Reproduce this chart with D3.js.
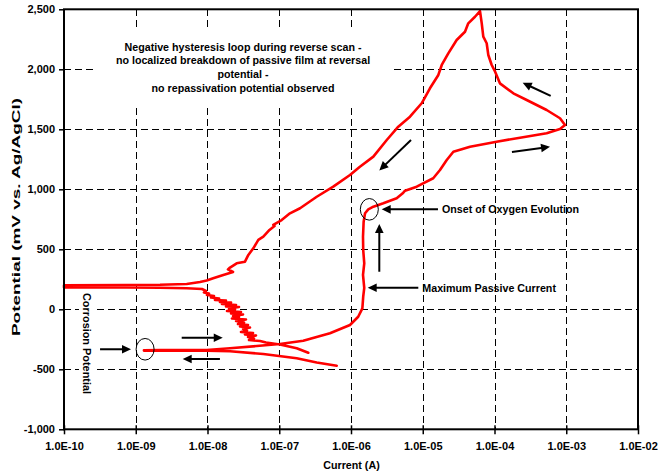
<!DOCTYPE html>
<html><head><meta charset="utf-8">
<script src="https://cdn.jsdelivr.net/npm/d3@7"></script>
<style>
html,body{margin:0;padding:0;background:#fff;}
svg{display:block;font-family:"Liberation Sans",Arial,Helvetica,sans-serif;font-weight:bold;}
</style></head><body>
<svg id="chart" width="658" height="474"></svg>
<script>
// Cyclic polarization scan: [current (A), potential (mV vs. Ag/AgCl)] in scan order.
// Start of scan: cathodic branch running down to the corrosion potential
const forwardCathodic = [
  [6.32e-7,-470],[3.33e-7,-443],[1.75e-7,-408],[6.0e-8,-372],[2.06e-8,-350],
  [9.75e-9,-346],[3.52e-9,-345],[1.3e-9,-344]
];
// Anodic branch: passive region, oxygen evolution, up to the nose near 1E-03 A
const forwardAnodic = [
  [1.3e-9,-342],[2.18e-9,-340],[9.75e-9,-339],[2.06e-8,-325],[4.85e-8,-306],
  [1.02e-7,-289],[2.16e-7,-262],[5.09e-7,-200],[9.68e-7,-131],[1.26e-6,-62],
  [1.44e-6,8],[1.48e-6,105],[1.53e-6,178],[1.47e-6,286],[1.53e-6,383],
  [1.48e-6,494],[1.47e-6,605],[1.50e-6,730],[1.57e-6,800],[1.74e-6,833],
  [2.05e-6,855],[2.82e-6,883],[4.33e-6,925],[5.26e-6,967],[5.66e-6,988],
  [8.24e-6,1022],[1.40e-5,1092],[1.74e-5,1161],[2.16e-5,1244],[2.67e-5,1313],
  [4.56e-5,1355],[1.07e-4,1397],[2.27e-4,1430],[5.33e-4,1467],[8.18e-4,1502],
  [9.61e-4,1536]
];
// Beyond the nose up to the reversal potential
const forwardTranspassive = [
  [8.18e-4,1592],[5.33e-4,1661],[2.81e-4,1744],[1.83e-4,1800],[1.19e-4,1883],
  [1.02e-4,1980],[9.14e-5,2036],[8.20e-5,2119],[7.78e-5,2217],[6.98e-5,2272],
  [6.64e-5,2383],[6.28e-5,2485]
];
// Reverse scan down to the second zero-current crossing
const reverseAnodic = [
  [5.35e-5,2438],[4.31e-5,2383],[3.88e-5,2313],[2.97e-5,2244],[2.27e-5,2133],
  [1.84e-5,2036],[1.65e-5,1953],[1.26e-5,1842],[9.66e-6,1717],[6.64e-6,1605],
  [4.56e-6,1522],[3.15e-6,1411],[2.05e-6,1272],[1.33e-6,1188],[9.68e-7,1119],
  [5.66e-7,1022],[3.33e-7,938],[1.95e-7,842],[1.41e-7,800],[1.08e-7,744],
  [8.26e-8,703],[8.59e-8,694],[7.31e-8,661],[6.00e-8,605],[5.11e-8,578],
  [4.35e-8,508],[3.71e-8,453],[3.33e-8,397],[2.55e-8,383],[2.06e-8,348],
  [1.93e-8,332],[2.27e-8,311],[1.66e-8,286],[1.20e-8,258],[9.75e-9,240],
  [7.86e-9,228],[5.13e-9,211],[2.18e-9,204],[7.48e-10,202],[1e-10,201]
];
// Noisy cathodic branch at the end of the reverse scan
const reverseCathodic = [
  [1e-10,182],[7.48e-10,182],[2.18e-9,180],[5.13e-9,175],[8.37e-9,169],
  [9.53e-9,153],[8.93e-9,140],[1.05e-8,132],[9.84e-9,119],[1.23e-8,111],
  [1.12e-8,98],[1.45e-8,90],[1.27e-8,78],[1.81e-8,73],[1.49e-8,61],
  [2.13e-8,57],[1.59e-8,44],[2.50e-8,36],[1.81e-8,23],[2.75e-8,19],
  [2.00e-8,7],[2.42e-8,-2],[1.87e-8,-14],[2.93e-8,-23],[2.13e-8,-35],
  [3.13e-8,-43],[2.27e-8,-56],[2.75e-8,-64],[2.19e-8,-77],[3.44e-8,-85],
  [2.50e-8,-98],[3.23e-8,-110],[2.66e-8,-123],[3.67e-8,-131],[2.84e-8,-143],
  [3.91e-8,-152],[3.13e-8,-164],[3.55e-8,-177],[2.93e-8,-189],[4.31e-8,-198],
  [3.33e-8,-210],[4.74e-8,-218],[3.67e-8,-231],[4.45e-8,-243],[3.79e-8,-256],
  [5.40e-8,-264],[6.53e-8,-277],[1.02e-7,-293],[1.75e-7,-325],[2.54e-7,-362]
];

const xTicks = [1e-10,1e-9,1e-8,1e-7,1e-6,1e-5,1e-4,1e-3,1e-2];
const xTickLabels = ["1.0E-10","1.0E-09","1.0E-08","1.0E-07","1.0E-06","1.0E-05","1.0E-04","1.0E-03","1.0E-02"];
const yTicks = [-1000,-500,0,500,1000,1500,2000,2500];
const yTickLabels = ["-1,000","-500","0","500","1,000","1,500","2,000","2,500"];

// Scan-direction arrows: [tail current, tail mV, tip current, tip mV]
const scanArrows = [
  [4.37e-9,-237,1.63e-8,-237],
  [1.49e-8,-414,4.51e-9,-414],
  [6.86e-6,1411,2.48e-6,1157],
  [6.07e-4,1778,2.47e-4,1888],
  [1.75e-4,1311,5.94e-4,1355],
  [2.48e-6,313,2.48e-6,711]
];
// Callouts: label, arrow tail/tip, optional ellipse centre
const callouts = [
  {text:"Onset of Oxygen Evolution", tail:[1.63e-5,833], tip:[2.68e-6,833], ring:[1.80e-6,833]},
  {text:"Maximum Passive Current", tail:[8.67e-6,180], tip:[1.71e-6,180], ring:null},
  {text:null, tail:[3.18e-10,-333], tip:[8.59e-10,-333], ring:[1.35e-9,-333]}
];
const noteLines = [
  "Negative hysteresis loop during reverse scan -",
  "no localized breakdown of passive film at reversal",
  "potential -",
  "no repassivation potential observed"
];

const W = 658, H = 474;
const margin = {left:64, right:20, top:9.3, bottom:44.7};
const svg = d3.select("#chart");
const x = d3.scaleLog().domain([1e-10,1e-2]).range([margin.left, W - margin.right]);
const y = d3.scaleLinear().domain([-1000,2500]).range([H - margin.bottom, margin.top]);
const [x0,x1] = x.range(), [y0,y1] = y.range();

svg.append("rect").attr("width",W).attr("height",H).attr("fill","#fff");

// dashed grid
const grid = svg.append("g").attr("stroke","#000").attr("stroke-width",1)
  .attr("stroke-dasharray","7,4").attr("shape-rendering","crispEdges");
grid.selectAll("line.v").data(xTicks.slice(1,-1)).join("line").attr("class","v")
  .attr("x1",d=>Math.round(x(d))+0.5).attr("x2",d=>Math.round(x(d))+0.5)
  .attr("y1",y1).attr("y2",y0);
grid.selectAll("line.h").data(yTicks.slice(1,-1)).join("line").attr("class","h")
  .attr("y1",d=>Math.round(y(d))+0.5).attr("y2",d=>Math.round(y(d))+0.5)
  .attr("x1",x0).attr("x2",x1);

// note box (opaque, hides the grid behind it)
svg.append("rect").attr("x",95).attr("y",31).attr("width",295).attr("height",73).attr("fill","#fff");
const note = svg.append("text").attr("text-anchor","middle").attr("font-size",10.7);
noteLines.forEach((t,i)=>{
  note.append("tspan").attr("x",243).attr("y",50.5 + i*13.8).text(t);
});

// "Corrosion Potential" vertical label with its own white box
svg.append("rect").attr("x",79).attr("y",289.5).attr("width",16).attr("height",108).attr("fill","#fff");
svg.append("text").attr("transform","translate(83.3,343.5) rotate(90)")
  .attr("text-anchor","middle").attr("font-size",10.9).text("Corrosion Potential");

// polarization curve
const scan = [].concat(forwardCathodic, forwardAnodic, forwardTranspassive, reverseAnodic, reverseCathodic);
const line = d3.line().x(d=>x(d[0])).y(d=>y(d[1]));
svg.append("path").datum(scan).attr("d",line).attr("fill","none")
  .attr("stroke","#ff0000").attr("stroke-width",2.6)
  .attr("stroke-linejoin","round").attr("stroke-linecap","round");

// frame
svg.append("rect").attr("x",x0).attr("y",y1).attr("width",x1-x0).attr("height",y0-y1)
  .attr("fill","none").attr("stroke","#000").attr("stroke-width",2);

// axes
const yAxis = svg.append("g").attr("transform",`translate(${x0},0)`)
  .call(d3.axisLeft(y).tickValues(yTicks).tickFormat((d,i)=>yTickLabels[i]).tickSize(5).tickPadding(4));
const xAxis = svg.append("g").attr("transform",`translate(0,${y0})`)
  .call(d3.axisBottom(x).tickValues(xTicks).tickFormat((d,i)=>xTickLabels[i]).tickSize(5).tickPadding(8));
[yAxis,xAxis].forEach(g=>{
  g.select(".domain").remove();
  g.selectAll("line").attr("stroke","#000").attr("stroke-width",1.5);
  g.selectAll("text").attr("font-family","'Liberation Sans',Arial,sans-serif")
    .attr("font-weight","bold").attr("font-size",11).attr("fill","#000");
});
xAxis.selectAll(".tick line").attr("y1",-4);

svg.append("text").attr("x",(x0+x1)/2 + 0.5).attr("y",468.5).attr("text-anchor","middle")
  .attr("font-size",10.7).text("Current (A)");
svg.append("text").attr("transform",`translate(19.5,217) rotate(-90)`)
  .attr("text-anchor","middle").attr("font-size",11.5)
  .attr("textLength",238).attr("lengthAdjust","spacingAndGlyphs")
  .text("Potential (mV vs. Ag/AgCl)");

// arrows
function arrow(p, q){
  const ax = x(p[0]), ay = y(p[1]), bx = x(q[0]), by = y(q[1]);
  const len = Math.hypot(bx-ax, by-ay), ux = (bx-ax)/len, uy = (by-ay)/len;
  const hl = 9, hw = 4.3;
  svg.append("line").attr("x1",ax).attr("y1",ay).attr("x2",bx-ux*(hl-2)).attr("y2",by-uy*(hl-2))
    .attr("stroke","#000").attr("stroke-width",2);
  const bxh = bx-ux*hl, byh = by-uy*hl;
  svg.append("path").attr("fill","#000")
    .attr("d",`M${bx},${by}L${bxh-uy*hw},${byh+ux*hw}L${bxh+uy*hw},${byh-ux*hw}Z`);
}
scanArrows.forEach(a=>arrow([a[0],a[1]],[a[2],a[3]]));
callouts.forEach(c=>{
  arrow(c.tail, c.tip);
  if (c.ring) svg.append("ellipse").attr("cx",x(c.ring[0])).attr("cy",y(c.ring[1]))
    .attr("rx",9).attr("ry",10.8).attr("fill","none").attr("stroke","#000").attr("stroke-width",1);
  if (c.text) svg.append("text").attr("x",x(c.tail[0])+4).attr("y",y(c.tail[1])+3.8)
    .attr("font-size",10.7).text(c.text);
});
</script>
</body></html>
